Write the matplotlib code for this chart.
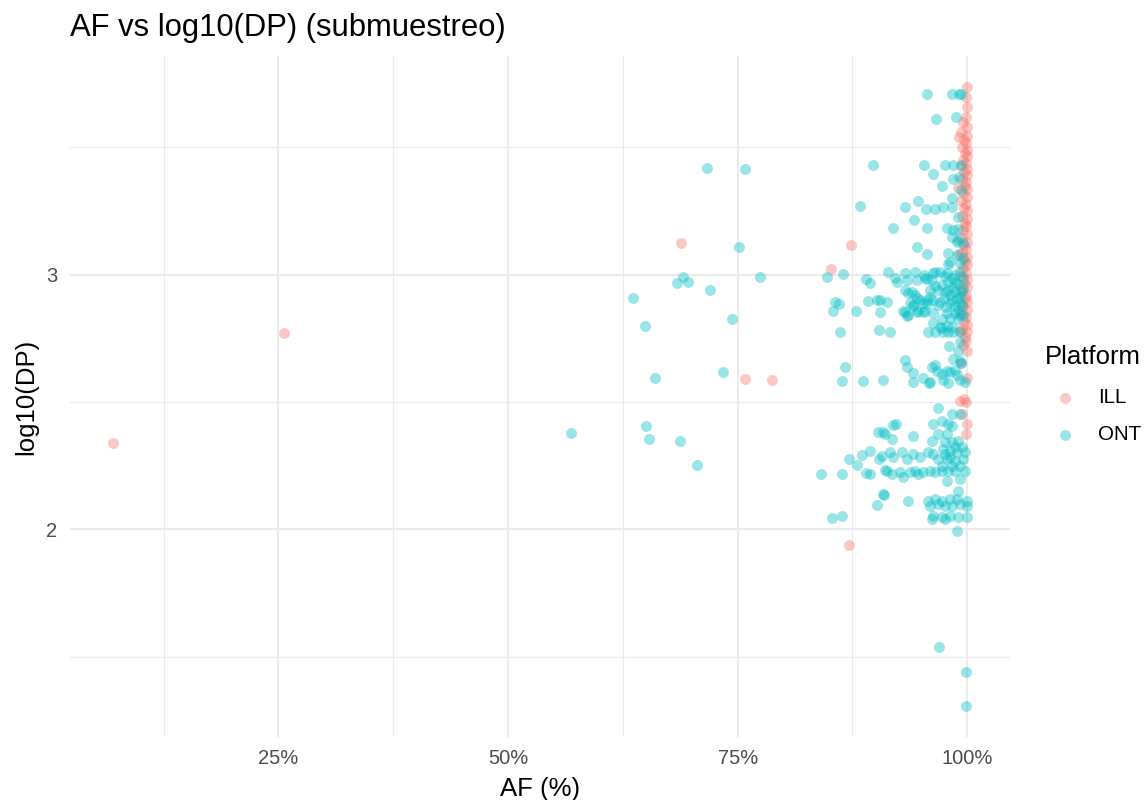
import numpy as np
import matplotlib.pyplot as plt
from matplotlib.ticker import PercentFormatter, FixedLocator

plt.rcParams["font.family"] = ["Liberation Sans", "DejaVu Sans"]

# ILL points (allele frequency, log10 depth)
ill_af = [0.0696, 0.2565, 0.6880, 0.7576, 0.7870, 0.8511, 0.8739, 0.8707,
          # column near 100%
          1.0, 0.999, 1.0, 0.999, 1.0, 1.0, 0.999, 1.0, 1.0, 0.999,
          1.0, 1.0, 0.999, 1.0, 1.0, 0.999, 1.0, 1.0, 0.999, 1.0,
          1.0, 0.999, 1.0, 1.0, 0.999, 1.0, 1.0, 0.999, 1.0, 1.0,
          0.999, 1.0, 1.0, 0.999, 1.0,
          0.995, 0.993, 0.996, 0.994, 0.997, 0.995, 0.993, 0.996, 0.994, 0.997,
          0.995, 0.993, 0.996, 0.994, 0.997, 0.995, 0.993, 0.996, 0.994, 0.997,
          0.995, 0.993, 0.996, 0.994, 0.997, 0.995, 0.993, 0.996, 0.994, 0.997,
          0.995, 0.993, 0.996, 0.994,
          0.991, 0.990, 0.991, 0.992, 0.992,
          1.0, 0.999, 1.0, 0.999]
ill_dp = [2.337, 2.769, 3.125, 2.592, 2.588, 3.024, 3.118, 1.937,
          3.737, 3.698, 3.659, 3.620, 3.580, 3.545, 3.515, 3.490, 3.465, 3.440,
          3.415, 3.390, 3.362, 3.335, 3.305, 3.276, 3.248, 3.218, 3.190, 3.160,
          3.130, 3.100, 3.070, 3.040, 3.010, 2.982, 2.953, 2.922, 2.893, 2.863,
          2.832, 2.803, 2.773, 2.740, 2.702,
          3.600, 3.560, 3.530, 3.500, 3.478, 3.452, 3.428, 3.402, 3.376, 3.349,
          3.320, 3.290, 3.262, 3.232, 3.204, 3.176, 3.145, 3.115, 3.086, 3.055,
          3.025, 2.996, 2.967, 2.938, 2.908, 2.878, 2.848, 2.818, 2.788, 2.757,
          2.722, 2.655, 2.510, 2.451,
          3.541, 3.340, 3.080, 2.780, 2.502,
          2.596, 2.498, 2.412, 2.373]

# ONT points
ont_af = [0.5685, 0.6359, 0.6489, 0.6500, 0.6533, 0.6598, 0.6837, 0.6902, 0.6957, 0.6870,
          0.7054, 0.7163, 0.7196, 0.7337, 0.7435, 0.7511, 0.7576, 0.7739, 0.8402, 0.8522,
          0.8641, 0.8641, 0.8478, 0.8652, 0.8533, 0.8565, 0.8598, 0.8609, 0.8674, 0.8641,
          0.8717, 0.8804, 0.8859, 0.8946, 0.8902, 0.8946, 0.8793, 0.8870, 0.8902, 0.8946,
          0.8924, 0.9022, 0.9054, 0.9130, 0.9043, 0.9087, 0.8837, 0.8978, 0.9033, 0.9109,
          0.9022, 0.9098, 0.9043, 0.9109, 0.9196, 0.9228, 0.9163, 0.9196, 0.9141, 0.9217,
          0.9239, 0.9054, 0.9087, 0.9076, 0.9163, 0.9196, 0.9130, 0.9185, 0.9185, 0.9087,
          0.9565, 0.9837, 0.9913, 0.9935, 0.9663, 0.9880, 0.9533, 0.9761, 0.9848, 0.9935,
          0.9630, 0.9848, 0.9913, 0.9728, 0.9935, 0.9326, 0.9467, 0.9554, 0.9652, 0.9739,
          0.9837, 0.9837, 0.9424, 0.9902, 0.9565, 0.9783, 0.9848, 0.9902, 0.9837, 0.9902,
          0.9457, 0.9891, 0.9957, 0.9565, 0.9793, 0.9891, 0.9793, 0.9924, 0.9815, 0.9957,
          0.9326, 0.9435, 0.9630, 0.9707, 0.9783, 0.9533, 0.9457, 0.9543, 0.9620, 0.9652,
          0.9348, 0.9565, 0.9870, 0.9924, 0.9326, 0.9359, 0.9402, 0.9435, 0.9489, 0.9380,
          0.9413, 0.9304, 0.9348, 0.9467, 0.9543, 0.9457, 0.9522, 0.9598, 0.9565, 0.9630,
          0.9707, 0.9413, 0.9565, 0.9685, 0.9815, 0.9924, 0.9326, 0.9359, 0.9457, 0.9522,
          0.9630, 0.9783, 0.9870, 0.9924, 0.9728, 0.9793, 0.9848, 0.9902, 0.9957, 0.9761,
          0.9815, 0.9870, 0.9924, 0.9750, 0.9837, 0.9891, 0.9946, 0.9772, 0.9870, 0.9815,
          0.9902, 0.9728, 0.9685, 0.9652, 0.9598, 0.9957, 0.9837, 0.9761, 0.9630, 0.9728,
          0.9837, 0.9576, 0.9652, 0.9739, 0.9793, 0.9848, 0.9924, 0.9783, 0.9707, 0.9804,
          0.9902, 0.9924, 0.9935, 0.9848, 0.9924, 0.9326, 0.9348, 0.9413, 0.9413, 0.9522,
          0.9598, 0.9620, 0.9652, 0.9674, 0.9728, 0.9739, 0.9783, 0.9815, 0.9870, 0.9891,
          0.9924, 0.9978, 0.9793, 0.9587, 0.9685, 0.9837, 0.9924, 0.9630, 0.9728, 0.9793,
          0.9837, 0.9413, 0.9620, 0.9685, 0.9783, 0.9761, 0.9837, 0.9902, 0.9739, 0.9815,
          0.9891, 0.9978, 0.9293, 0.9348, 0.9413, 0.9489, 0.9576, 0.9630, 0.9685, 0.9783,
          0.9870, 0.9957, 0.9728, 0.9837, 0.9272, 0.9304, 0.9380, 0.9435, 0.9467, 0.9522,
          0.9598, 0.9652, 0.9728, 0.9793, 0.9870, 0.9978, 0.9783, 0.9924, 0.9902, 0.9359,
          0.9576, 0.9652, 0.9728, 0.9815, 0.9891, 1.0000, 0.9598, 0.9685, 0.9761, 0.9837,
          0.9924, 1.0000, 0.9630, 0.9728, 0.9815, 0.9902, 1.0000, 0.9761, 0.9620, 0.9891,
          0.9696, 0.9989, 0.9989, 0.9870, 0.9935, 0.9793, 0.9902, 0.9957, 0.9870, 0.9946,
          0.9815, 0.9924, 0.9761]
ont_dp = [2.380, 2.910, 2.800, 2.404, 2.353, 2.596, 2.969, 2.992, 2.973, 2.345,
          2.251, 3.420, 2.941, 2.616, 2.827, 3.110, 3.416, 2.992, 2.216, 2.043,
          2.051, 2.216, 2.992, 3.004, 2.859, 2.894, 2.886, 2.773, 2.639, 2.584,
          2.278, 2.251, 2.290, 2.306, 2.220, 2.216, 2.859, 2.584, 2.984, 2.969,
          2.898, 2.902, 2.855, 2.894, 2.784, 2.588, 3.271, 3.431, 2.384, 2.376,
          2.094, 2.133, 2.278, 2.231, 2.408, 2.412, 2.773, 3.184, 3.012, 2.988,
          2.973, 2.902, 2.137, 2.286, 2.302, 2.282, 2.227, 2.216, 2.353, 2.384,
          3.710, 3.710, 3.710, 3.710, 3.612, 3.620, 3.431, 3.431, 3.431, 3.431,
          3.396, 3.376, 3.384, 3.349, 3.333, 3.267, 3.290, 3.259, 3.259, 3.267,
          3.267, 3.302, 3.216, 3.227, 3.184, 3.184, 3.176, 3.180, 3.149, 3.137,
          3.110, 3.129, 3.125, 3.082, 3.086, 3.078, 3.043, 3.047, 3.051, 3.067,
          3.008, 3.012, 3.008, 3.012, 3.008, 3.000, 2.980, 2.988, 2.980, 3.012,
          2.980, 2.984, 3.000, 3.012, 2.941, 2.929, 2.933, 2.922, 2.902, 2.890,
          2.875, 2.859, 2.839, 2.859, 2.859, 2.910, 2.890, 2.914, 2.902, 2.902,
          2.894, 2.882, 2.886, 2.882, 2.890, 2.890, 2.855, 2.843, 2.855, 2.855,
          2.851, 2.851, 2.851, 2.843, 2.961, 2.973, 2.953, 2.965, 2.949, 2.933,
          2.922, 2.933, 2.918, 2.910, 2.902, 2.910, 2.882, 2.871, 2.875, 2.831,
          2.824, 2.824, 2.941, 2.957, 2.941, 2.988, 2.988, 2.996, 2.812, 2.792,
          2.796, 2.773, 2.773, 2.773, 2.776, 2.773, 2.773, 2.800, 2.796, 2.718,
          2.702, 2.737, 2.655, 2.667, 2.659, 2.663, 2.639, 2.612, 2.580, 2.596,
          2.580, 2.639, 2.647, 2.620, 2.608, 2.588, 2.620, 2.616, 2.627, 2.604,
          2.588, 2.580, 2.576, 2.576, 2.475, 2.451, 2.451, 2.412, 2.424, 2.412,
          2.404, 2.365, 2.345, 2.373, 2.373, 2.341, 2.341, 2.345, 2.314, 2.306,
          2.302, 2.302, 2.302, 2.275, 2.294, 2.282, 2.302, 2.294, 2.275, 2.275,
          2.267, 2.275, 2.247, 2.247, 2.224, 2.204, 2.224, 2.227, 2.216, 2.224,
          2.227, 2.224, 2.227, 2.227, 2.227, 2.227, 2.188, 2.196, 2.149, 2.110,
          2.110, 2.118, 2.110, 2.118, 2.118, 2.110, 2.090, 2.098, 2.090, 2.090,
          2.098, 2.090, 2.051, 2.047, 2.051, 2.047, 2.047, 2.039, 2.039, 1.992,
          1.537, 1.439, 1.306, 2.973, 2.933, 2.941, 2.863, 2.843, 2.322, 2.325,
          2.282, 2.247, 2.294]

colors = {"ILL": "#F8766D", "ONT": "#00BFC4"}
x_breaks = [0.25, 0.5, 0.75, 1.0]
x_minor = [0.125, 0.375, 0.625, 0.875]
y_breaks = [2, 3]
y_minor = [1.5, 2.5, 3.5]

fig = plt.figure(figsize=(11.47, 8.0), dpi=100)
ax = fig.add_axes([70 / 1147, 1 - 737 / 800, 940 / 1147, 681 / 800])

for plat, xs, ys in [("ILL", ill_af, ill_dp), ("ONT", ont_af, ont_dp)]:
    ax.scatter(xs, ys, s=62, color=colors[plat], alpha=0.4, linewidths=0,
               label=plat, zorder=3)

# 5% expansion of the data range on both axes
all_x = np.array(ill_af + ont_af)
all_y = np.array(ill_dp + ont_dp)
xpad = 0.05 * (all_x.max() - all_x.min())
ypad = 0.05 * (all_y.max() - all_y.min())
ax.set_xlim(all_x.min() - xpad, all_x.max() + xpad)
ax.set_ylim(all_y.min() - ypad, all_y.max() + ypad)

ax.xaxis.set_major_locator(FixedLocator(x_breaks))
ax.xaxis.set_minor_locator(FixedLocator(x_minor))
ax.yaxis.set_major_locator(FixedLocator(y_breaks))
ax.yaxis.set_minor_locator(FixedLocator(y_minor))
ax.xaxis.set_major_formatter(PercentFormatter(xmax=1, decimals=0))

ax.grid(which="major", color="#EBEBEB", linewidth=1.5, zorder=0)
ax.grid(which="minor", color="#EBEBEB", linewidth=0.8, zorder=0)
ax.set_axisbelow(True)
for sp in ax.spines.values():
    sp.set_visible(False)
ax.tick_params(which="both", length=0, labelsize=14.5, labelcolor="#4D4D4D")
ax.tick_params(axis="x", pad=9)
ax.tick_params(axis="y", pad=9)

ax.set_xlabel("AF (%)", fontsize=18.5, labelpad=6)
ax.set_ylabel("log10(DP)", fontsize=18.5, labelpad=6)
fig.text(70 / 1147, 1 - 28 / 800, "AF vs log10(DP) (submuestreo)",
         fontsize=22.3, ha="left", va="center")

leg = ax.legend(title="Platform", loc="center left",
                bbox_to_anchor=(1026 / 1147, 1 - 395 / 800),
                bbox_transform=fig.transFigure, frameon=False,
                fontsize=14.8, title_fontsize=18.5, alignment="left",
                handletextpad=0.6, labelspacing=0.9, markerscale=1.0)

fig.savefig("out.png", dpi=100)
